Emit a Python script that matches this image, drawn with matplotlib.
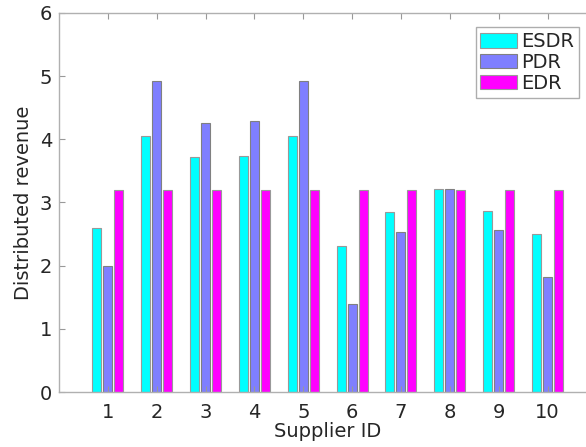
import matplotlib
matplotlib.use("Agg")
import matplotlib.pyplot as plt
import numpy as np

supplier_ids = [1, 2, 3, 4, 5, 6, 7, 8, 9, 10]
esdr = [2.60, 4.06, 3.72, 3.73, 4.06, 2.31, 2.85, 3.21, 2.87, 2.50]
pdr = [2.00, 4.92, 4.26, 4.29, 4.92, 1.40, 2.53, 3.22, 2.56, 1.82]
edr = [3.19, 3.19, 3.19, 3.19, 3.19, 3.19, 3.19, 3.19, 3.19, 3.19]

text_col = "#262626"
edge_col = "#999999"
fs = 14

fig = plt.figure(figsize=(5.86, 4.47), dpi=100)
ax = fig.add_axes([0.1007, 0.123, 0.917, 0.848])

x = np.array(supplier_ids)
w = 0.185
off = 0.225
ax.bar(x - off, esdr, w, color="#00FFFF", edgecolor=edge_col, linewidth=0.8, label="ESDR")
ax.bar(x, pdr, w, color="#7F7FFF", edgecolor="#808080", linewidth=0.8, label="PDR")
ax.bar(x + off, edr, w, color="#FF00FF", edgecolor=edge_col, linewidth=0.8, label="EDR")

ax.set_xlim(0, 11)
ax.set_ylim(0, 6)
ax.set_xticks(supplier_ids)
ax.set_yticks(range(0, 7))
ax.tick_params(direction="in", top=True, right=True, colors=edge_col,
               labelcolor=text_col, labelsize=fs, length=4, pad=5)
ax.tick_params(axis="x", pad=8)
for s in ax.spines.values():
    s.set_color("#b0b0b0")
    s.set_linewidth(1.0)

ax.set_xlabel("Supplier ID", fontsize=fs, color=text_col, labelpad=0)
ax.set_ylabel("Distributed revenue", fontsize=fs, color=text_col, labelpad=5)

leg = ax.legend(loc="upper right", bbox_to_anchor=(0.968, 0.963), fancybox=False,
                fontsize=fs, handlelength=1.9, handleheight=0.8,
                handletextpad=0.2, labelspacing=0.1, borderpad=0.25,
                borderaxespad=0)
leg.get_frame().set_edgecolor(edge_col)
leg.get_frame().set_linewidth(1.0)
for t in leg.get_texts():
    t.set_color(text_col)

plt.savefig("out.png", dpi=100)
